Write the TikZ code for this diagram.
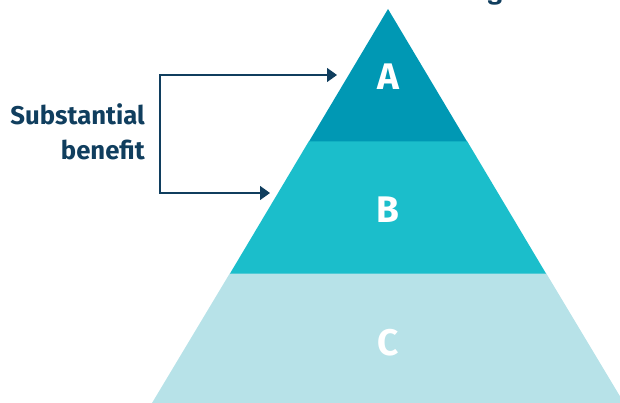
\documentclass[tikz,border=0pt]{standalone}
\usepackage{fontspec}
\setmainfont{Fira Sans}
\usetikzlibrary{arrows.meta}
\definecolor{navy}{HTML}{103E5E}
\definecolor{layA}{HTML}{0098B4}
\definecolor{layB}{HTML}{1BBECB}
\definecolor{layC}{HTML}{B7E2E8}
\begin{document}
\begin{tikzpicture}[x=1pt,y=-1pt,
  lbl/.style={text=white,font=\fontsize{37}{40}\selectfont\bfseries,inner sep=0pt},
  side/.style={text=navy,font=\fontsize{25.7}{30}\selectfont\bfseries,inner sep=0pt},
  conn/.style={draw=navy,line width=1.3pt,{Triangle[length=10pt,width=14pt]}-{Triangle[length=10pt,width=14pt]}}]
\useasboundingbox (0,0) rectangle (620,403);
\clip (0,0) rectangle (620,403);
\fill[layC] (152,403) -- (230,273) -- (546,273) -- (624,403) -- cycle;
\fill[layB] (230,273.5) -- (309,141) -- (467,141) -- (546,273.5) -- cycle;
\fill[layA] (309,141.5) -- (388,9) -- (467,141.5) -- cycle;
\node[lbl] (A) at (388,77) {A};
\node[lbl] (B) at (388,210) {B};
\node[lbl] (C) at (388,343) {C};
\node[side,anchor=base east] (s1) at (145,125) {Substantial};
\node[side,anchor=base east] (s2) at (145,160) {benefit};
\node[side,anchor=base] (g) at (495,0) {g};
\coordinate (ta) at (337,75);
\coordinate (tb) at (270,193);
\coordinate (c1) at (160,75);
\coordinate (c2) at (160,193);
\draw[conn] (tb) -- (c2) -- (c1) -- (ta);
\end{tikzpicture}
\end{document}
